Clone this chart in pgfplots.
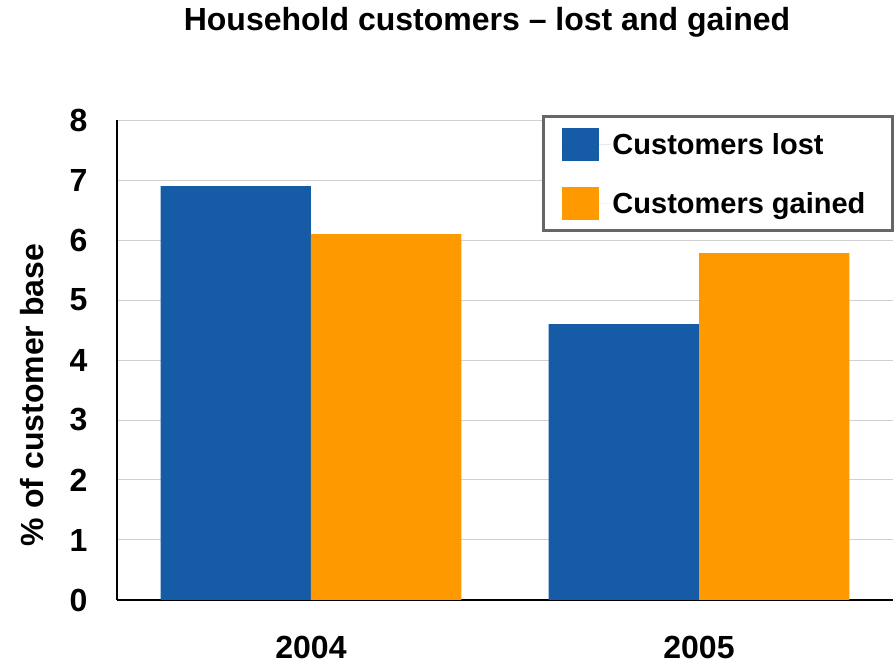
\documentclass[border=0pt]{standalone}
\usepackage{pgfplots}
\pgfplotsset{compat=1.18}
\usepackage{fontspec}
\setmainfont{Liberation Sans}
\definecolor{cblue}{RGB}{21,91,166}
\definecolor{corange}{RGB}{255,153,0}
\definecolor{lgray}{RGB}{102,102,102}
\begin{document}
\begin{tikzpicture}
\useasboundingbox (-117pt,-64pt) rectangle (778pt,600pt);
\begin{axis}[
  scale only axis,
  width=776pt, height=480pt,
  xmin=-0.5, xmax=1.5,
  ymin=0, ymax=8,
  ytick={0,...,8},
  xtick=data,
  xticklabels={2004,2005},
  ybar, bar width=0.3875,
  axis lines*=left,
  axis line style={line width=2.2pt, black, -},
  ymajorgrids,
  grid style={line width=1pt, black!18},
  major tick length=0pt,
  tick style={draw=none},
  /pgf/number format/assume math mode=true,
  ticklabel style={font=\fontsize{32}{36}\selectfont\bfseries},
  xticklabel style={yshift=-33pt},
  yticklabel style={xshift=-26pt},
  ylabel={\% of customer base},
  ylabel style={font=\fontsize{32}{36}\selectfont\bfseries, yshift=19pt, xshift=-35pt},
  legend style={at={(rel axis cs:1,1)}, anchor=north east, yshift=5pt, xshift=1pt,
    draw=lgray, line width=3pt, fill=white,
    font=\fontsize{29}{33}\selectfont\bfseries,
    inner xsep=18pt, inner ysep=11pt, row sep=26pt},
  legend cell align=left,
  legend image code/.code={\fill[#1,draw=none] (0pt,-16pt) rectangle (37pt,17pt); \path (0pt,0pt) -- (49pt,0pt);},
]
\addplot[fill=cblue, draw=none, bar shift=-0.19375] coordinates {(0,6.9) (1,4.6)};
\addplot[fill=corange, draw=none, bar shift=0.19375] coordinates {(0,6.1) (1,5.78)};
\legend{Customers lost, Customers gained\kern7pt}
\end{axis}
\node[font=\fontsize{32}{36}\selectfont\bfseries] at (370pt,578pt) {Household customers – lost and gained};
\end{tikzpicture}
\end{document}
